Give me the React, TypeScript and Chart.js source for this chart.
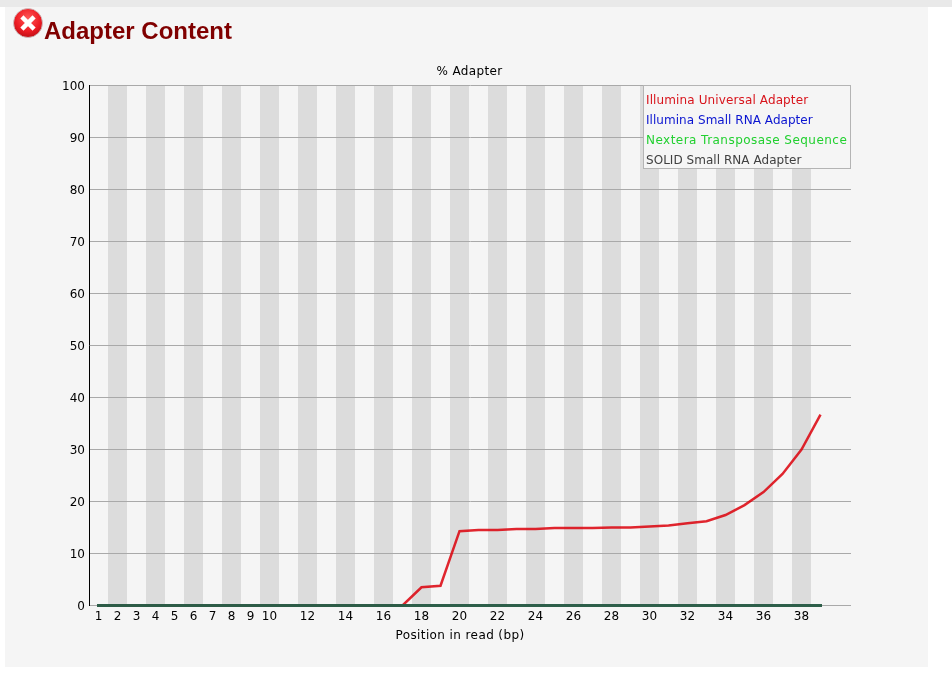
import React, { useEffect, useRef } from "react";
import { Chart, registerables, Plugin } from "chart.js";

Chart.register(...registerables);

const positions = [1,2,3,4,5,6,7,8,9,10,11,12,13,14,15,16,17,18,19,20,21,22,23,24,25,26,27,28,29,30,31,32,33,34,35,36,37,38,39];
const tickLabels = [1,2,3,4,5,6,7,8,9,10,12,14,16,18,20,22,24,26,28,30,32,34,36,38];
const stripePositions = [2,4,6,8,10,12,14,16,18,20,22,24,26,28,30,32,34,36,38];
const universal = [0,0,0,0,0,0,0,0,0,0,0,0,0,0,0,0,0,3.5,3.8,14.3,14.5,14.5,14.7,14.7,14.9,14.9,14.9,15.0,15.0,15.2,15.4,15.8,16.2,17.4,19.3,21.8,25.3,30.0,36.7];
const smallRna = [0,0,0,0,0,0,0,0,0,0,0,0,0,0,0,0,0,0,0,0,0,0,0,0,0,0,0,0,0,0,0,0,0,0,0,0,0,0,0];
const nextera = [0,0,0,0,0,0,0,0,0,0,0,0,0,0,0,0,0,0,0,0,0,0,0,0,0,0,0,0,0,0,0,0,0,0,0,0,0,0,0];
const solid = [0,0,0,0,0,0,0,0,0,0,0,0,0,0,0,0,0,0,0,0,0,0,0,0,0,0,0,0,0,0,0,0,0,0,0,0,0,0,0];

const seriesNames = ["Illumina Universal Adapter", "Illumina Small RNA Adapter", "Nextera Transposase Sequence", "SOLID Small RNA Adapter"];
const legendColors = ["#d8141c", "#0a14d0", "#22d030", "#404040"];
const legendSpacing = ["0.12px", "0.04px", "0.46px", "0.04px"];
const lineColors = ["rgba(220,0,10,0.85)", "rgba(0,0,200,0.8)", "rgba(0,0,0,0.7)", "rgba(60,130,80,0.7)"];
const chartTitle = "% Adapter";
const xTitle = "Position in read (bp)";
const FONT = "12px 'DejaVu Sans'";

const decor: Plugin<"line"> = {
  id: "decor",
  beforeDraw(chart) {
    const { ctx, chartArea, scales } = chart;
    const x = scales.x;
    const half = (x.getPixelForValue(2) - x.getPixelForValue(1)) / 2;
    ctx.save();
    ctx.fillStyle = "#dcdcdc";
    for (const p of stripePositions) {
      const c = x.getPixelForValue(p);
      ctx.fillRect(Math.round(c - half), chartArea.top, Math.round(half * 2), chartArea.bottom - chartArea.top);
    }
    ctx.restore();
    scales.y.getLabelItems(chartArea as any).forEach((it: any) => {
      if (!it.__moved) {
        it.options.translation[1] += 1;
        it.__moved = true;
      }
    });
  },
  afterDraw(chart) {
    const { ctx, chartArea } = chart;
    ctx.save();
    ctx.font = FONT;
    ctx.textBaseline = "alphabetic";
    ctx.textAlign = "center";
    ctx.fillStyle = "#000";
    (ctx as any).letterSpacing = "0.35px";
    ctx.fillText(chartTitle, chartArea.left + 380.5, 75);
    (ctx as any).letterSpacing = "0.4px";
    ctx.fillText(xTitle, chartArea.left + 371, 639);
    const bx = 643.5, by = 85.5, bw = 207, bh = 83;
    ctx.fillStyle = "#f5f5f5";
    ctx.fillRect(bx, by, bw, bh);
    ctx.strokeStyle = "#b4b4b4";
    ctx.lineWidth = 1;
    ctx.strokeRect(bx, by, bw, bh);
    ctx.textAlign = "left";
    seriesNames.forEach((name, i) => {
      ctx.fillStyle = legendColors[i];
      (ctx as any).letterSpacing = legendSpacing[i];
      ctx.fillText(name, 646, 104 + i * 20);
    });
    ctx.restore();
  },
};

export default function App() {
  const ref = useRef<HTMLCanvasElement>(null);
  useEffect(() => {
    const chart = new Chart(ref.current!, {
      type: "line",
      data: {
        datasets: [universal, smallRna, nextera, solid].map((values, i) => ({
          label: seriesNames[i],
          data: values.map((y, k) => ({ x: positions[k], y })),
          borderColor: lineColors[i],
          borderWidth: i === 0 ? 2.5 : 3,
          borderCapStyle: i === 0 ? ("butt" as const) : ("square" as const),
          pointRadius: 0,
          tension: 0,
          clip: false as const,
          order: 3 - i,
        })),
      },
      options: {
        responsive: false,
        animation: false,
        devicePixelRatio: 1,
        layout: { padding: { left: 0, top: 85.5, right: 101, bottom: 48.5 } },
        plugins: { legend: { display: false }, title: { display: false }, tooltip: { enabled: false } },
        scales: {
          x: {
            type: "linear",
            min: 0.5,
            max: 40.605,
            afterFit: (s: any) => { s.height = 30; },
            afterBuildTicks: (s: any) => { s.ticks = tickLabels.map((value) => ({ value })); },
            grid: { display: false, drawTicks: false, tickLength: 0 },
            border: { display: false },
            ticks: {
              autoSkip: false,
              maxRotation: 0,
              padding: 4,
              color: "#000",
              font: { family: "'DejaVu Sans'", size: 12 },
            },
          },
          y: {
            min: 0,
            max: 100,
            afterFit: (s: any) => { s.width = 89; },
            grid: { color: "#a9a9a9", lineWidth: 1, drawTicks: false },
            border: { display: true, color: "#000", width: 1 },
            ticks: {
              stepSize: 10,
              padding: 4,
              color: "#000",
              font: { family: "'DejaVu Sans'", size: 12 },
            },
          },
        },
      },
      plugins: [decor],
    });
    return () => chart.destroy();
  }, []);
  return (
    <div style={{ position: "absolute", left: 0, top: 0, width: 952, height: 684, background: "#fff", overflow: "hidden" }}>
      <div style={{ position: "absolute", left: 0, top: 0, width: 952, height: 7, background: "#e9e9e9" }} />
      <div style={{ position: "absolute", left: 5, top: 7, width: 923, height: 660, background: "#f5f5f5" }} />
      <canvas ref={ref} width={952} height={684} style={{ position: "absolute", left: 0, top: 0, display: "block" }} />
      <svg width="32" height="32" viewBox="0 0 32 32" style={{ position: "absolute", left: 12, top: 7 }}>
        <defs>
          <radialGradient id="g" cx="0.5" cy="0.35" r="0.7">
            <stop offset="0" stopColor="#ff5a5a" />
            <stop offset="0.6" stopColor="#ee1c24" />
            <stop offset="1" stopColor="#b80c12" />
          </radialGradient>
        </defs>
        <circle cx="16" cy="16" r="14.5" fill="url(#g)" stroke="#c8c8c8" strokeWidth="0.8" />
        <path d="M11.5 11.5 L20.5 20.5 M20.5 11.5 L11.5 20.5" stroke="#fff" strokeWidth="4.5" strokeLinecap="square" />
      </svg>
      <div style={{ position: "absolute", left: 44, top: 17, font: "bold 24px 'Liberation Sans'", color: "#800000", lineHeight: "28px", whiteSpace: "nowrap" }}>
        Adapter Content
      </div>
    </div>
  );
}
